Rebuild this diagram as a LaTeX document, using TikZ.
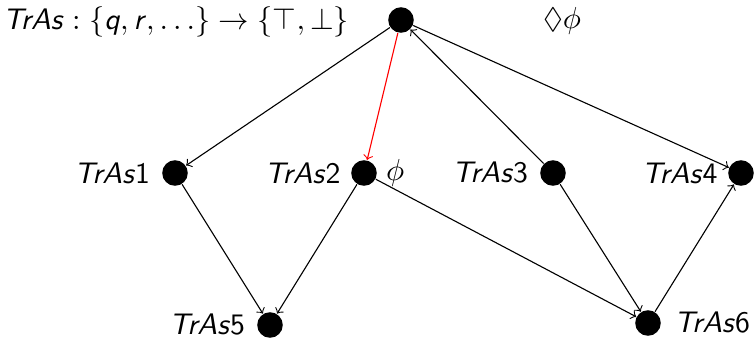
\documentclass[tikz,border=0pt]{standalone}
\usepackage{amssymb}
\usepackage{fontspec}
\usetikzlibrary{positioning}
\newcommand{\sit}[1]{\textsf{\textit{#1}}}
\newcommand{\lab}[1]{\sit{TrAs}\textsf{#1}}
\begin{document}
\begin{tikzpicture}[x=0.36pt,y=-0.36pt,
  dot/.style={circle,fill=black,inner sep=0pt,minimum size=9.2pt},
  txt/.style={inner sep=0pt,font=\fontsize{10.7}{12}\selectfont},
  edge/.style={->,>=to,line width=0.4pt},
  redge/.style={edge,draw=red}]
  \useasboundingbox (0,0) rectangle (755,337);
  % vertices
  \node[dot] (t)  at (401,20)  {};
  \node[dot] (a1) at (175,173) {};
  \node[dot] (a2) at (364,173) {};
  \node[dot] (a3) at (553,173) {};
  \node[dot] (a4) at (741,173) {};
  \node[dot] (a5) at (270,325) {};
  \node[dot] (a6) at (648,323) {};
  % texts
  \node[txt] (head) at (176,22) {$\sit{TrAs} : \{\sit{q}, \sit{r}, \dots\} \to \{\top, \bot\}$};
  \node[txt] (dphi) at (562,21) {$\Diamond\phi$};
  \node[txt,left=4pt of a1] (l1) {\lab{1}};
  \node[txt,left=3.5pt of a2] (l2) {\lab{2}};
  \node[txt,right=3pt of a2] (phi) {$\phi$};
  \node[txt,left=4pt of a3] (l3) {\lab{3}};
  \node[txt,left=3.5pt of a4] (l4) {\lab{4}};
  \node[txt,left=4pt of a5] (l5) {\lab{5}};
  \node[txt,right=4.5pt of a6] (l6) {\lab{6}};
  % edges
  \draw[edge]  (t)  -- (a1);
  \draw[redge] (t)  -- (a2);
  \draw[edge]  (a3) -- (t);
  \draw[edge]  (t)  -- (a4);
  \draw[edge]  (a1) -- (a5);
  \draw[edge]  (a2) -- (a5);
  \draw[edge]  (a2) -- (a6);
  \draw[edge]  (a3) -- (a6);
  \draw[edge]  (a6) -- (a4);
\end{tikzpicture}
\end{document}
